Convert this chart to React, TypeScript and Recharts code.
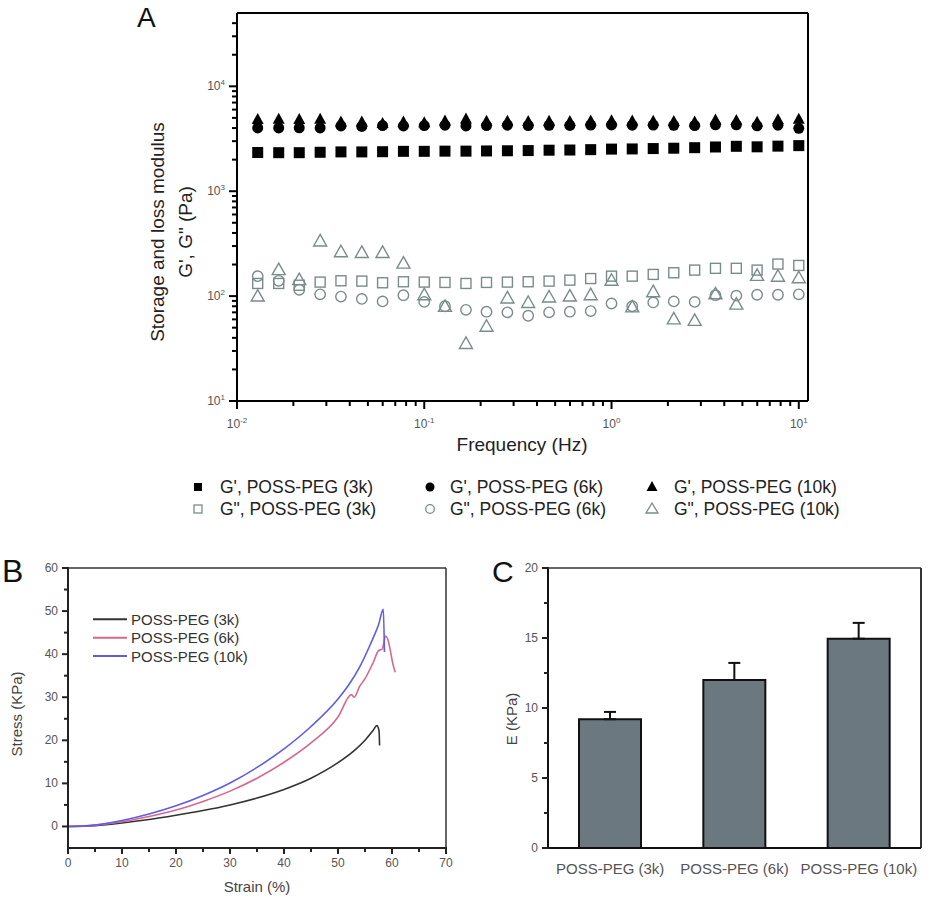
import React from 'react';
import {
  ScatterChart, Scatter, XAxis, YAxis, ReferenceLine, Legend,
  LineChart, Line, BarChart, Bar, ErrorBar,
} from 'recharts';

const FONT = '"Liberation Sans", Arial, Helvetica, sans-serif';

// ---------- Panel A data ----------
const frequencies = [0.0129, 0.0167, 0.0215, 0.0278, 0.0359, 0.0464, 0.0599, 0.0774, 0.1, 0.129, 0.167, 0.215, 0.278, 0.359, 0.464, 0.599, 0.774, 1.0, 1.29, 1.67, 2.15, 2.78, 3.59, 4.64, 5.99, 7.74, 10.0];
const gPrime3k = [2340, 2330, 2330, 2350, 2370, 2370, 2380, 2400, 2400, 2410, 2410, 2420, 2430, 2440, 2460, 2470, 2490, 2520, 2530, 2550, 2570, 2600, 2640, 2680, 2650, 2690, 2720];
const gPrime6k = [4010, 4010, 4020, 4010, 4190, 4150, 4220, 4190, 4220, 4260, 4190, 4220, 4260, 4230, 4250, 4240, 4270, 4280, 4260, 4270, 4250, 4230, 4300, 4290, 4200, 4260, 3980];
const gPrime10k = [4780, 4800, 4780, 4800, 4530, 4530, 4380, 4530, 4450, 4630, 4830, 4600, 4600, 4560, 4600, 4580, 4620, 4640, 4620, 4600, 4580, 4520, 4720, 4680, 4500, 4740, 4790];
const gDouble3k = [132, 132, 127, 136, 140, 139, 134, 137, 136, 135, 132, 135, 136, 137, 139, 142, 147, 155, 155, 161, 167, 177, 184, 184, 177, 202, 196];
const gDouble6k = [155, 140, 115, 104, 99, 94, 89, 102, 88, 80, 74, 71, 70, 65, 70, 71, 72, 85, 80, 87, 89, 88, 102, 101, 103, 103, 104];
const gDouble10k = [99, 177, 142, 332, 262, 258, 258, 204, 102, 79, 35, 51, 95, 86, 97, 99, 102, 140, 78, 109, 60, 58, 104, 83, 156, 153, 148];
const aXMajor = [0.01, 0.1, 1, 10];
const aXMinor = [0.02, 0.03, 0.04, 0.05, 0.06, 0.07, 0.08, 0.09, 0.2, 0.3, 0.4, 0.5, 0.6, 0.7, 0.8, 0.9, 2, 3, 4, 5, 6, 7, 8, 9];
const aYMajor = [10, 100, 1000, 10000];
const aYMinor = [20, 30, 40, 50, 60, 70, 80, 90, 200, 300, 400, 500, 600, 700, 800, 900, 2000, 3000, 4000, 5000, 6000, 7000, 8000, 9000, 20000, 30000, 40000];
const aLegendRow1 = ["G', POSS-PEG (3k)", "G', POSS-PEG (6k)", "G', POSS-PEG (10k)"];
const aLegendRow2 = ['G", POSS-PEG (3k)', 'G", POSS-PEG (6k)', 'G", POSS-PEG (10k)'];

// ---------- Panel B data ----------
const strain3k = [0, 5, 10, 15, 20, 25, 30, 35, 40, 45, 50, 53, 55, 56.5, 57.2, 57.6, 57.7];
const stress3k = [0, 0.2, 0.8, 1.6, 2.6, 3.7, 5.0, 6.6, 8.6, 11.2, 14.8, 17.6, 20.0, 22.3, 23.4, 22.2, 18.8];
const strain6k = [0, 5, 10, 15, 20, 25, 30, 35, 40, 45, 50, 52.5, 53, 54, 55, 56.5, 57.5, 58.2, 58.8, 59.2, 59.7, 60.2, 60.6];
const stress6k = [0, 0.3, 1.1, 2.3, 3.8, 5.8, 8.2, 11.2, 14.9, 19.4, 25.4, 30.6, 30.0, 32.5, 34.3, 38.0, 40.8, 41.2, 44.2, 43.5, 40.8, 37.5, 35.8];
const strain10k = [0, 5, 10, 15, 20, 25, 30, 35, 40, 45, 50, 52, 54, 56, 57.5, 58.4, 58.6];
const stress10k = [0, 0.35, 1.4, 2.9, 4.8, 7.2, 10.1, 13.7, 18.0, 23.2, 29.6, 32.9, 37.0, 42.3, 46.8, 50.4, 40.5];
const bSeriesNames = ['POSS-PEG (3k)', 'POSS-PEG (6k)', 'POSS-PEG (10k)'];
const bColors = ['#333333', '#d8668f', '#5c5ee8'];
const bXMajor = [0, 10, 20, 30, 40, 50, 60, 70];
const bXMinor = [5, 15, 25, 35, 45, 55, 65];
const bYMajor = [0, 10, 20, 30, 40, 50, 60];
const bYMinor = [5, 15, 25, 35, 45, 55];

// ---------- Panel C data ----------
const cCategories = ['POSS-PEG (3k)', 'POSS-PEG (6k)', 'POSS-PEG (10k)'];
const cSlots = [0.5, 1.5, 2.5];
const cModulus = [9.2, 12.0, 14.95];
const cError = [0.52, 1.22, 1.13];
const cYMajor = [0, 5, 10, 15, 20];
const cYMinor = [2.5, 7.5, 12.5, 17.5];

const toPts = (xs: number[], ys: number[]) => xs.map((x, i) => ({ x, y: ys[i] }));
const aData = (ys: number[]) => frequencies.map((f, i) => ({ f, v: ys[i] }));

const OPEN = '#7a8b8b';

// ---------- marker shapes ----------
const SqFilled = (p: any) => <rect x={p.cx - 5.5} y={p.cy - 5.5} width={11} height={11} fill="#000" />;
const CiFilled = (p: any) => <circle cx={p.cx} cy={p.cy} r={5.5} fill="#000" />;
const TrFilled = (p: any) => (
  <polygon points={`${p.cx},${p.cy - 7} ${p.cx + 6},${p.cy + 4} ${p.cx - 6},${p.cy + 4}`} fill="#000" />
);
const SqOpen = (p: any) => <rect x={p.cx - 5} y={p.cy - 5} width={10} height={10} fill="none" stroke={OPEN} strokeWidth={1.4} />;
const CiOpen = (p: any) => <circle cx={p.cx} cy={p.cy} r={5.2} fill="none" stroke={OPEN} strokeWidth={1.4} />;
const TrOpen = (p: any) => (
  <polygon points={`${p.cx},${p.cy - 7} ${p.cx + 6.5},${p.cy + 4.5} ${p.cx - 6.5},${p.cy + 4.5}`} fill="none" stroke={OPEN} strokeWidth={1.4} />
);

// ---------- ticks ----------
const LogXTick = (props: any) => {
  const { x, y, payload } = props;
  const v = payload.value;
  const major = aXMajor.some((m) => Math.abs(m - v) < 1e-9);
  const exp = Math.round(Math.log10(v));
  return (
    <g>
      <line x1={x} x2={x} y1={y - 1} y2={y + (major ? 8 : 5)} stroke="#000" strokeWidth={2} />
      {major && (
        <text x={x} y={y + 27} textAnchor="middle" fontSize={12} fill="#555" fontFamily={FONT}>
          10<tspan dy={-5} fontSize={8}>{exp}</tspan>
        </text>
      )}
    </g>
  );
};

const LogYTick = (props: any) => {
  const { x, y, payload } = props;
  const v = payload.value;
  const major = aYMajor.includes(v);
  const exp = Math.round(Math.log10(v));
  return (
    <g>
      <line x1={x + 1} x2={x - (major ? 8 : 5)} y1={y} y2={y} stroke="#000" strokeWidth={2} />
      {major && (
        <text x={x - 12} y={y + 4} textAnchor="end" fontSize={12} fill="#555" fontFamily={FONT}>
          10<tspan dy={-5} fontSize={8}>{exp}</tspan>
        </text>
      )}
    </g>
  );
};

const makeLinXTick = (majors: number[]) => (props: any) => {
  const { x, y, payload } = props;
  const major = majors.includes(payload.value);
  return (
    <g>
      <line x1={x} x2={x} y1={y - 1} y2={y + (major ? 6 : 4)} stroke="#222" strokeWidth={2} />
      {major && (
        <text x={x} y={y + 19} textAnchor="middle" fontSize={12} fill="#555" fontFamily={FONT}>{payload.value}</text>
      )}
    </g>
  );
};

const makeLinYTick = (majors: number[]) => (props: any) => {
  const { x, y, payload } = props;
  const major = majors.includes(payload.value);
  return (
    <g>
      <line x1={x + 1} x2={x - (major ? 6 : 4)} y1={y} y2={y} stroke="#222" strokeWidth={2} />
      {major && (
        <text x={x - 10} y={y + 4} textAnchor="end" fontSize={12} fill="#555" fontFamily={FONT}>{payload.value}</text>
      )}
    </g>
  );
};

const CatTick = (props: any) => {
  const { x, y, payload } = props;
  const idx = cSlots.indexOf(payload.value);
  return (
    <text x={x} y={y + 26} textAnchor="middle" fontSize={15} fill="#555" fontFamily={FONT}>{cCategories[idx]}</text>
  );
};

// ---------- legends ----------
const LegendA = () => {
  const mx = [198, 430, 652];
  const tx = [220, 450, 674];
  const r1 = 17;
  const r2 = 39;
  return (
    <svg width={933} height={55} style={{ display: 'block' }}>
      <rect x={mx[0] - 4} y={r1 - 4} width={8} height={8} fill="#000" />
      <circle cx={mx[1]} cy={r1} r={4.5} fill="#000" />
      <polygon points={`${mx[2]},${r1 - 6} ${mx[2] + 5.5},${r1 + 4} ${mx[2] - 5.5},${r1 + 4}`} fill="#000" />
      <rect x={mx[0] - 4} y={r2 - 4} width={8} height={8} fill="none" stroke={OPEN} strokeWidth={1.3} />
      <circle cx={mx[1]} cy={r2} r={4.3} fill="none" stroke={OPEN} strokeWidth={1.3} />
      <polygon points={`${mx[2]},${r2 - 6} ${mx[2] + 6},${r2 + 4} ${mx[2] - 6},${r2 + 4}`} fill="none" stroke={OPEN} strokeWidth={1.3} />
      {aLegendRow1.map((t, i) => (
        <text key={'a' + i} x={tx[i]} y={r1 + 6} fontSize={17.5} fill="#222" fontFamily={FONT}>{t}</text>
      ))}
      {aLegendRow2.map((t, i) => (
        <text key={'b' + i} x={tx[i]} y={r2 + 6} fontSize={17.5} fill="#222" fontFamily={FONT}>{t}</text>
      ))}
    </svg>
  );
};

const LegendB = () => {
  const rows = [71.3, 89.7, 108];
  return (
    <svg width={300} height={130} style={{ display: 'block' }}>
      {bSeriesNames.map((n, i) => (
        <g key={n}>
          <line x1={93} x2={127} y1={rows[i]} y2={rows[i]} stroke={bColors[i]} strokeWidth={2} />
          <text x={131} y={rows[i] + 5.5} fontSize={15} fill="#333" fontFamily={FONT}>{n}</text>
        </g>
      ))}
    </svg>
  );
};

const cData = cCategories.map((name, i) => ({ name, slot: cSlots[i], e: cModulus[i], err: [0, cError[i]] }));

export default function App() {
  return (
    <div style={{ position: 'absolute', left: 0, top: 0, width: 933, height: 898, background: '#fff', fontFamily: FONT, overflow: 'hidden' }}>
      {/* Panel A */}
      <div style={{ position: 'absolute', left: 0, top: 0 }}>
        <ScatterChart width={933} height={540} margin={{ top: 13, right: 125, left: 177, bottom: 95 }}>
          <XAxis
            type="number" dataKey="f" scale="log" domain={[0.01, 11.2]} allowDataOverflow
            ticks={[...aXMajor, ...aXMinor].sort((a, b) => a - b)} interval={0}
            tickSize={0} tickMargin={0} tickLine={false} height={44}
            tick={(p: any) => <LogXTick {...p} />}
            axisLine={{ stroke: '#000', strokeWidth: 2 }}
          />
          <YAxis
            type="number" dataKey="v" scale="log" domain={[10, 50000]} allowDataOverflow
            ticks={[...aYMajor, ...aYMinor].sort((a, b) => a - b)} interval={0}
            tickSize={0} tickMargin={0} tickLine={false} width={60}
            tick={(p: any) => <LogYTick {...p} />}
            axisLine={{ stroke: '#000', strokeWidth: 2 }}
          />
          <ReferenceLine y={50000} stroke="#000" strokeWidth={2} />
          <ReferenceLine x={11.2} stroke="#000" strokeWidth={2} />
          <Scatter data={aData(gDouble3k)} shape={SqOpen} isAnimationActive={false} />
          <Scatter data={aData(gDouble6k)} shape={CiOpen} isAnimationActive={false} />
          <Scatter data={aData(gDouble10k)} shape={TrOpen} isAnimationActive={false} />
          <Scatter data={aData(gPrime3k)} shape={SqFilled} isAnimationActive={false} />
          <Scatter data={aData(gPrime6k)} shape={CiFilled} isAnimationActive={false} />
          <Scatter data={aData(gPrime10k)} shape={TrFilled} isAnimationActive={false} />
          <Legend
            layout="horizontal" verticalAlign="middle" align="center"
            wrapperStyle={{ position: 'absolute', left: 0, top: 470, width: 933, height: 55 }}
            content={() => <LegendA />}
          />
          <text x={137} y={27} fontSize={28} fill="#111" fontFamily={FONT}>A</text>
          <text transform="translate(163.5,232) rotate(-90)" textAnchor="middle" fontSize={19} fill="#222" fontFamily={FONT}>Storage and loss modulus</text>
          <text transform="translate(191.5,232) rotate(-90)" textAnchor="middle" fontSize={19} fill="#222" fontFamily={FONT}>{'G\', G" (Pa)'}</text>
          <text x={522} y={451} textAnchor="middle" fontSize={19} fill="#222" fontFamily={FONT}>Frequency (Hz)</text>
        </ScatterChart>
      </div>

      {/* Panel B */}
      <div style={{ position: 'absolute', left: 0, top: 548 }}>
        <LineChart width={460} height={350} margin={{ top: 20, right: 14, left: 18, bottom: 10 }}>
          <XAxis
            type="number" dataKey="x" domain={[0, 70]} allowDataOverflow
            ticks={[...bXMajor, ...bXMinor].sort((a, b) => a - b)} interval={0}
            tickSize={0} tickMargin={0} tickLine={false} height={40}
            tick={makeLinXTick(bXMajor)}
            axisLine={{ stroke: '#222', strokeWidth: 2 }}
          />
          <YAxis
            type="number" domain={[-5, 60]} allowDataOverflow
            ticks={[...bYMajor, ...bYMinor].sort((a, b) => a - b)} interval={0}
            tickSize={0} tickMargin={0} tickLine={false} width={50}
            tick={makeLinYTick(bYMajor)}
            axisLine={{ stroke: '#222', strokeWidth: 2 }}
          />
          <ReferenceLine y={60} stroke="#333" strokeWidth={1.5} />
          <ReferenceLine x={70} stroke="#333" strokeWidth={1.5} />
          <Line data={toPts(strain3k, stress3k)} dataKey="y" type="monotone" stroke={bColors[0]} strokeWidth={1.6} dot={false} isAnimationActive={false} />
          <Line data={toPts(strain6k, stress6k)} dataKey="y" type="monotone" stroke={bColors[1]} strokeWidth={1.6} dot={false} isAnimationActive={false} />
          <Line data={toPts(strain10k, stress10k)} dataKey="y" type="monotone" stroke={bColors[2]} strokeWidth={1.6} dot={false} isAnimationActive={false} />
          <Legend
            layout="horizontal" verticalAlign="middle" align="center"
            wrapperStyle={{ position: 'absolute', left: 0, top: 0, width: 300, height: 130 }}
            content={() => <LegendB />}
          />
          <text x={2} y={34} fontSize={32} fill="#111" fontFamily={FONT}>B</text>
          <text transform="translate(22,166) rotate(-90)" textAnchor="middle" fontSize={15} fill="#444" fontFamily={FONT}>Stress (KPa)</text>
          <text x={257} y={344} textAnchor="middle" fontSize={15} fill="#444" fontFamily={FONT}>Strain (%)</text>
        </LineChart>
      </div>

      {/* Panel C */}
      <div style={{ position: 'absolute', left: 470, top: 548 }}>
        <BarChart width={463} height={350} data={cData} margin={{ top: 20, right: 12, left: 28, bottom: 10 }}>
          <XAxis
            type="number" dataKey="slot" domain={[0, 3]} allowDataOverflow
            ticks={cSlots} interval={0}
            tickSize={0} tickMargin={0} tickLine={false} height={40}
            tick={(p: any) => <CatTick {...p} />}
            axisLine={{ stroke: '#111', strokeWidth: 2 }}
          />
          <YAxis
            type="number" domain={[0, 20]} allowDataOverflow
            ticks={[...cYMajor, ...cYMinor].sort((a, b) => a - b)} interval={0}
            tickSize={0} tickMargin={0} tickLine={false} width={50}
            tick={makeLinYTick(cYMajor)}
            axisLine={{ stroke: '#111', strokeWidth: 2 }}
          />
          <ReferenceLine y={20} stroke="#333" strokeWidth={1.5} />
          <ReferenceLine x={3} stroke="#333" strokeWidth={2} />
          <Bar dataKey="e" barSize={62} fill="#6b7880" stroke="#111" strokeWidth={2} isAnimationActive={false}>
            <ErrorBar dataKey="err" direction="y" width={6} stroke="#111" strokeWidth={2} />
          </Bar>
          <text x={22} y={34} fontSize={30} fill="#111" fontFamily={FONT}>C</text>
          <text transform="translate(47,171) rotate(-90)" textAnchor="middle" fontSize={15} fill="#444" fontFamily={FONT}>E (KPa)</text>
        </BarChart>
      </div>
    </div>
  );
}
